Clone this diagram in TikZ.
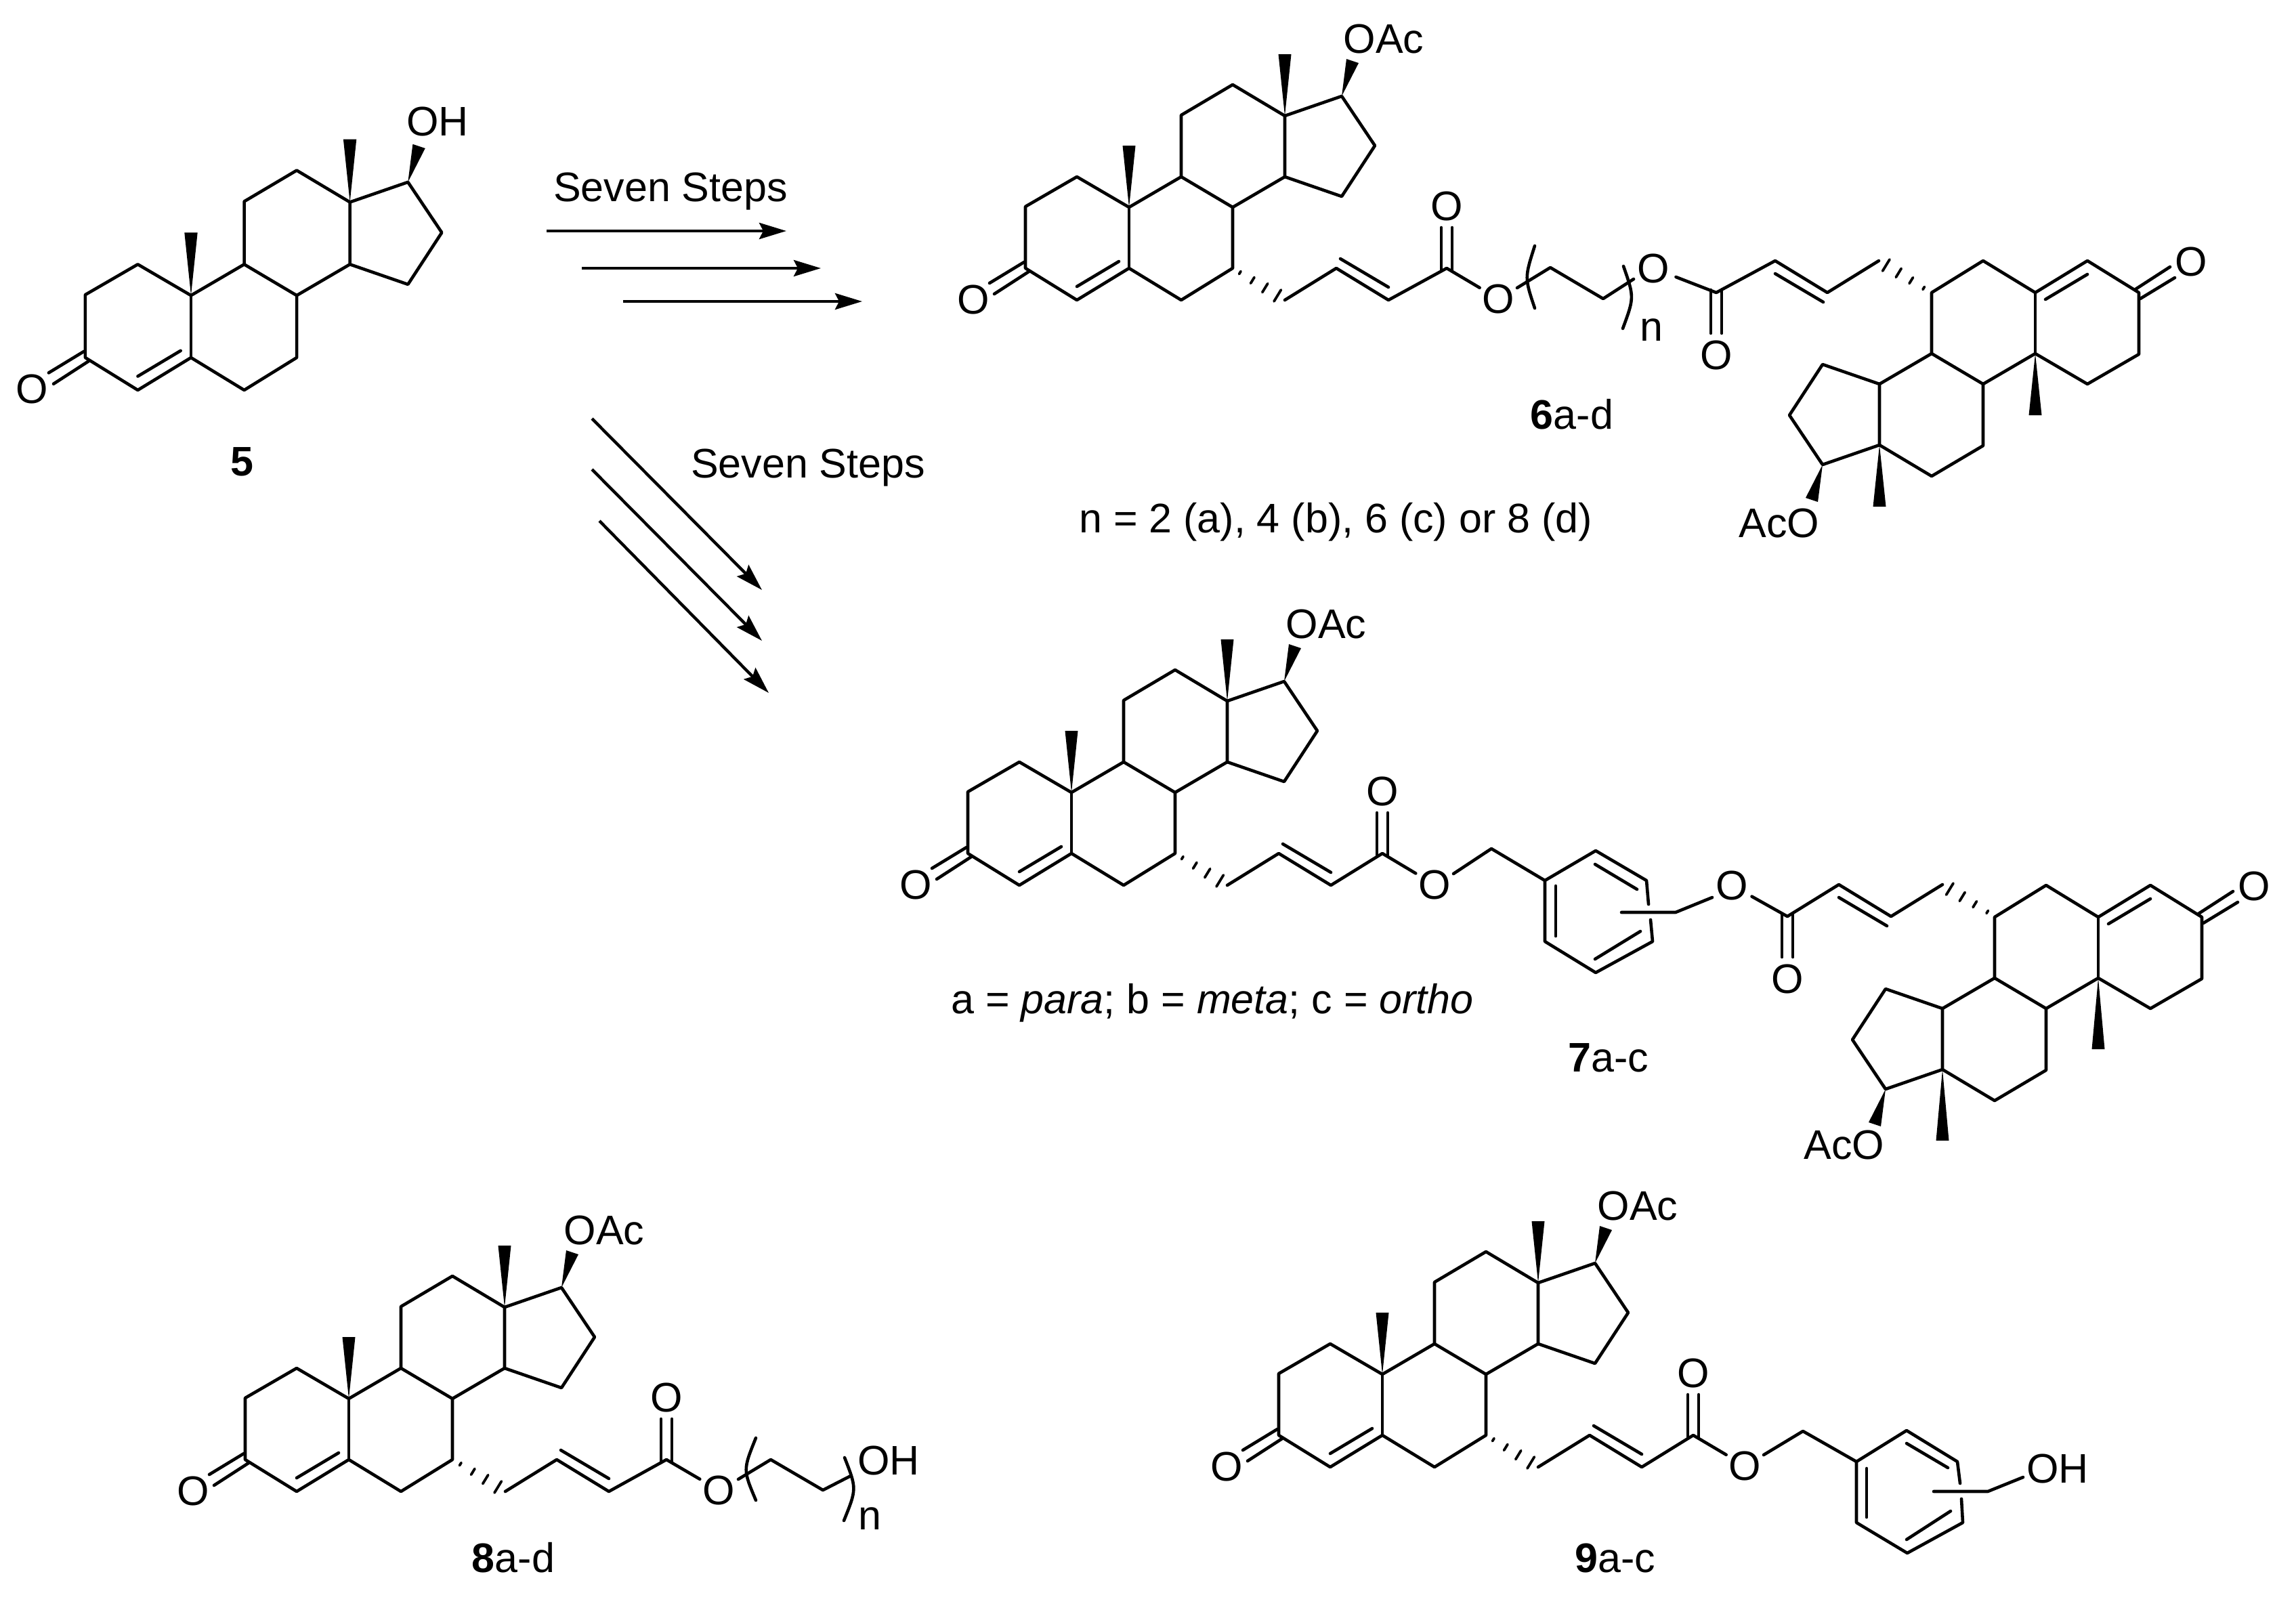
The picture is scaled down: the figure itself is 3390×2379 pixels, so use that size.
\documentclass[tikz,border=0pt]{standalone}
\usepackage{fontspec}
\setmainfont{Liberation Sans}
\usetikzlibrary{calc,arrows.meta}
\tikzset{
  x=0.5pt,y=-0.5pt,
  bond/.style={line width=2.3pt,line cap=round,line join=round,black},
  hashline/.style={line width=1.9pt,line cap=round,black},
  atom/.style={inner sep=0pt,outer sep=0pt,font=\fontsize{30.5}{35}\selectfont},
  reaction/.style={line width=2.2pt,-{Stealth[length=20pt,width=12pt,inset=3pt]}},
}
% prefix, x, y, rotation, scale, methyl wedge length
\newcommand{\steroid}[6]{%
\begin{scope}[shift={(#2,#3)},rotate=#4,scale=#5,name prefix=#1-]
  \coordinate (C5) at (0,0);
  \coordinate (C4) at (-77,47);
  \coordinate (C3) at (-153,0);
  \coordinate (C2) at (-153,-91);
  \coordinate (C1) at (-77,-135);
  \coordinate (C10) at (0,-90);
  \coordinate (C6) at (77,47);
  \coordinate (C7) at (153,0);
  \coordinate (C8) at (153,-90);
  \coordinate (C9) at (77,-135);
  \coordinate (C11) at (77,-226);
  \coordinate (C12) at (153,-271);
  \coordinate (C13) at (230,-225);
  \coordinate (C14) at (230,-135);
  \coordinate (C15) at (314,-106);
  \coordinate (C16) at (363,-181);
  \coordinate (C17) at (314,-254);
  \node[atom] (O3) at (-230,46) {O};
  \draw[bond] (C3)--(C4)--(C5)--(C6)--(C7)--(C8)--(C9)--(C10)--(C1)--(C2)--cycle;
  \draw[bond] (C5)--(C10);
  \draw[bond] (C9)--(C11)--(C12)--(C13)--(C14)--(C8);
  \draw[bond] (C14)--(C15)--(C16)--(C17)--(C13);
  \draw[bond] (-77,27)--(-15,-10);
  \draw[bond] (-155,-9)--(-206,22);
  \draw[bond] (-148,5)--(-199,38);
  \fill (C10)--(-9.5,{-90-#6})--(9.5,{-90-#6})--cycle;
  \fill (C13)--(220.5,{-225-#6})--(239.5,{-225-#6})--cycle;
  \fill (C17)--(321,-309)--(339,-303)--cycle;
\end{scope}}
% prefix, x, y (of C7), rotation, dx to ester carbon, ester O offset x, y
\newcommand{\enoate}[7]{%
\begin{scope}[shift={(#2,#3)},rotate=#4,name prefix=#1-]
  \coordinate (a) at (0,0);
  \coordinate (b) at (77,47);
  \coordinate (c) at (153,0);
  \coordinate (d) at (230,47);
  \coordinate (e) at (#5,0);
  \node[atom] (Oc) at (#5,-92) {O};
  \node[atom] (Oe) at ({#5+#6},#7) {O};
  \foreach \t/\h in {.14/1.2,.38/2.6,.62/3.8,.86/5}{
    \draw[hashline] ($(a)!\t!(b)!\h pt!90:(b)$)--($(a)!\t!(b)!\h pt!-90:(b)$);
  }
  \draw[bond] (b)--(c)--(d)--(e)--($(e)!.64!(Oe)$);
  \draw[bond] (159,-14)--(230,28);
  \draw[bond] ({#5-8},4)--({#5-8},-60);
  \draw[bond] ({#5+8},4)--({#5+8},-60);
\end{scope}}
\begin{document}
\begin{tikzpicture}
\fill[white] (0,0) rectangle (3390,2379);
\useasboundingbox (0,0) rectangle (3390,2379);

% ---------- 5
\steroid{s}{282}{528}{0}{1.02}{91}
\node[atom] (sOH) at (646,179) {OH};
\node[atom,font=\fontsize{30.5}{35}\selectfont\bfseries] (lab5) at (357,682) {5};

% ---------- arrows
\coordinate (r1s) at (807,341); \coordinate (r1e) at (1161,341);
\coordinate (r2s) at (859,396); \coordinate (r2e) at (1212,396);
\coordinate (r3s) at (920,445); \coordinate (r3e) at (1273,445);
\draw[reaction] (r1s)--(r1e);
\draw[reaction] (r2s)--(r2e);
\draw[reaction] (r3s)--(r3e);
\node[atom] (steps1) at (990,283) {Seven Steps};
\coordinate (d1s) at (874,618); \coordinate (d1e) at (1125,871);
\coordinate (d2s) at (874,693); \coordinate (d2e) at (1125,946);
\coordinate (d3s) at (885,769); \coordinate (d3e) at (1135,1023);
\draw[reaction] (d1s)--(d1e);
\draw[reaction] (d2s)--(d2e);
\draw[reaction] (d3s)--(d3e);
\node[atom] (steps2) at (1193,691) {Seven Steps};

% ---------- 6
\steroid{a}{1667}{396}{0}{1}{91}
\node[atom] (aOAc) at (2043,57) {OAc};
\enoate{ac}{1820}{396}{0}{316}{76}{45}
\steroid{b}{3005}{432}{180}{1}{91}
\node[atom] (bAcO) at (2627,772) {AcO};
\enoate{bc}{2851}{432}{180}{317}{93}{36}
\coordinate (l1) at (2240,425);
\coordinate (l2) at (2289,395);
\coordinate (l3) at (2367,441);
\coordinate (l4) at (2412,412);
\draw[bond] (l1)--(l2)--(l3)--(l4);
\coordinate (p1a) at (2266,363); \coordinate (p1c) at (2251,410); \coordinate (p1b) at (2266,455);
\coordinate (p2a) at (2397,393); \coordinate (p2c) at (2413,439); \coordinate (p2b) at (2396,485);
\draw[bond] (p1a) .. controls (p1c) .. (p1b);
\draw[bond] (p2a) .. controls (p2c) .. (p2b);
\node[atom] (an) at (2438,487) {n};
\node[atom] (lab6) at (2321,612) {\textbf{6}a-d};
\node[atom] (cond6) at (1972,771) {n = 2 (a), 4 (b), 6 (c) or 8 (d)};

% ---------- 7
\steroid{c}{1582}{1260}{0}{1}{91}
\node[atom] (cOAc) at (1958,921) {OAc};
\enoate{cc}{1735}{1260}{0}{306}{77}{46}
\steroid{d}{3098}{1354}{180}{1}{105}
\node[atom] (dAcO) at (2723,1690) {AcO};
\enoate{dc}{2945}{1353}{180}{306}{82}{46}
\coordinate (m1) at (2146,1290);
\coordinate (m2) at (2202,1253);
\coordinate (r1) at (2281,1300);
\coordinate (r2) at (2356,1256);
\coordinate (r3) at (2431,1300);
\coordinate (r3g) at (2434,1335);
\coordinate (r4g) at (2437,1358);
\coordinate (r4) at (2440,1390);
\coordinate (r5) at (2356,1436);
\coordinate (r6) at (2281,1390);
\draw[bond] (m1)--(m2)--(r1);
\draw[bond] (r3g)--(r3)--(r2)--(r1)--(r6)--(r5)--(r4)--(r4g);
\draw[bond] (2297,1308)--(2297,1382);
\draw[bond] (2355,1276)--(2417,1313);
\draw[bond] (2355,1416)--(2422,1375);
\coordinate (m3) at (2394,1347);
\coordinate (m4) at (2474,1347);
\coordinate (m5) at (2528,1325);
\draw[bond] (m3)--(m4)--(m5);
\node[atom] (lab7) at (2375,1562) {\textbf{7}a-c};
\node[atom] (cond7) at (1790,1481) {a = \textit{para}; b = \textit{meta}; c = \textit{ortho}};

% ---------- 8
\steroid{e}{515}{2155}{0}{1}{91}
\node[atom] (eOAc) at (892,1816) {OAc};
\enoate{ec}{669}{2155}{0}{315}{77}{45}
\coordinate (k1) at (1090,2184);
\coordinate (k2) at (1138,2155);
\coordinate (k3) at (1215,2200);
\coordinate (k4) at (1256,2179);
\draw[bond] (k1)--(k2)--(k3)--(k4);
\coordinate (q1a) at (1116,2123); \coordinate (q1c) at (1097,2170); \coordinate (q1b) at (1116,2215);
\coordinate (q2a) at (1247,2152); \coordinate (q2c) at (1265,2198); \coordinate (q2b) at (1246,2245);
\draw[bond] (q1a) .. controls (q1c) .. (q1b);
\draw[bond] (q2a) .. controls (q2c) .. (q2b);
\node[atom] (eOH) at (1312,2156) {OH};
\node[atom] (en) at (1284,2242) {n};
\node[atom] (lab8) at (758,2300) {\textbf{8}a-d};

% ---------- 9
\steroid{f}{2041}{2119}{0}{1}{91}
\node[atom] (fOAc) at (2418,1780) {OAc};
\enoate{fc}{2194}{2119}{0}{306}{76}{45}
\coordinate (n1) at (2604,2148);
\coordinate (n2) at (2662,2113);
\coordinate (t1) at (2741,2158);
\coordinate (t2) at (2815,2112);
\coordinate (t3) at (2890,2158);
\coordinate (t3g) at (2894,2190);
\coordinate (t4g) at (2896,2213);
\coordinate (t4) at (2898,2248);
\coordinate (t5) at (2816,2293);
\coordinate (t6) at (2741,2248);
\draw[bond] (n1)--(n2)--(t1);
\draw[bond] (t3g)--(t3)--(t2)--(t1)--(t6)--(t5)--(t4)--(t4g);
\draw[bond] (2756,2168)--(2756,2240);
\draw[bond] (2815,2131)--(2876,2167);
\draw[bond] (2815,2273)--(2880,2231);
\coordinate (n3) at (2855,2202);
\coordinate (n4) at (2935,2202);
\coordinate (n5) at (2987,2181);
\draw[bond] (n3)--(n4)--(n5);
\node[atom] (fOH) at (3038,2168) {OH};
\node[atom] (lab9) at (2385,2300) {\textbf{9}a-c};
\end{tikzpicture}
\end{document}
